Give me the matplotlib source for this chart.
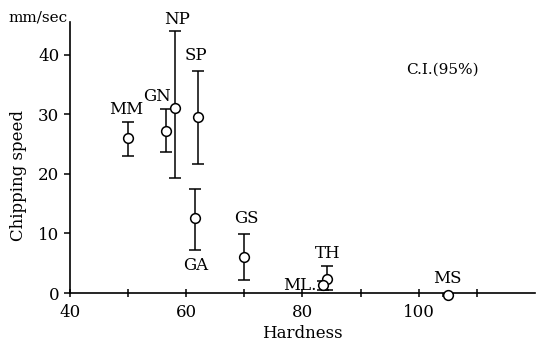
import numpy as np
import matplotlib.pyplot as plt

plt.rcParams['font.family'] = ['DejaVu Serif']

names = ['MM', 'GN', 'NP', 'SP', 'GA', 'GS', 'TH', 'ML.', 'MS']
hardness = [50.0, 56.5, 58.1, 62.1, 61.6, 70.0, 84.3, 83.6, 105.0]
speed = [26.0, 27.2, 31.1, 29.6, 12.6, 6.0, 2.4, 1.4, -0.3]
ci_low = [23.0, 23.7, 19.3, 21.7, 7.2, 2.2, 0.5, 0.6, -0.5]
ci_high = [28.7, 30.9, 43.9, 37.3, 17.5, 9.9, 4.5, 2.0, -0.1]

# label offsets in data units (dx, dy) and alignment
label_pos = {
    'MM': (-0.3, 4.8, 'center'),
    'GN': (-1.5, 5.8, 'center'),
    'NP': (0.3, 14.8, 'center'),
    'SP': (-0.4, 10.3, 'center'),
    'GA': (0.0, -7.9, 'center'),
    'GS': (0.3, 6.5, 'center'),
    'TH': (0.0, 4.3, 'center'),
    'ML.': (-1.2, -0.2, 'right'),
    'MS': (0.0, 2.8, 'center'),
}

fig = plt.figure(figsize=(5.41, 3.42), dpi=100)
ax = fig.add_axes([0.129, 0.143, 0.86, 0.793])

x = np.array(hardness)
y = np.array(speed)
yerr = [y - np.array(ci_low), np.array(ci_high) - y]
ax.errorbar(x, y, yerr=yerr, fmt='o', color='black', ecolor='black',
            markerfacecolor='white', markeredgecolor='black', markersize=7,
            markeredgewidth=1.1, elinewidth=1.1, capsize=4.5, capthick=1.1,
            clip_on=False, zorder=3)

for n, hx, sy in zip(names, hardness, speed):
    dx, dy, ha = label_pos[n]
    ax.text(hx + dx, sy + dy, n, ha=ha, va='center', fontsize=12)

ax.text(104, 37.5, 'C.I.(95%)', ha='center', va='center', fontsize=11)

ax.set_xlim(40, 120)
ax.set_ylim(0, 45.5)
ax.set_xticks([40, 60, 80, 100])
ax.set_xticks([50, 70, 90, 110], minor=True)
ax.set_yticks([0, 10, 20, 30, 40])
ax.tick_params(axis='both', labelsize=12, width=1.1, length=4)
ax.tick_params(axis='x', direction='inout', length=6, pad=5)
ax.tick_params(axis='x', which='minor', direction='inout', length=6, width=1.1)
ax.tick_params(axis='y', direction='out', length=4)

for s in ['top', 'right']:
    ax.spines[s].set_visible(False)
ax.spines['left'].set_linewidth(1.2)
ax.spines['bottom'].set_linewidth(1.2)

ax.set_xlabel('Hardness', fontsize=12, labelpad=3)
ax.set_ylabel('Chipping speed', fontsize=12)
ax.yaxis.set_label_coords(-0.093, 0.435)
fig.text(0.07, 0.95, 'mm/sec', ha='center', va='center', fontsize=11)

fig.savefig('out.png', dpi=100)
